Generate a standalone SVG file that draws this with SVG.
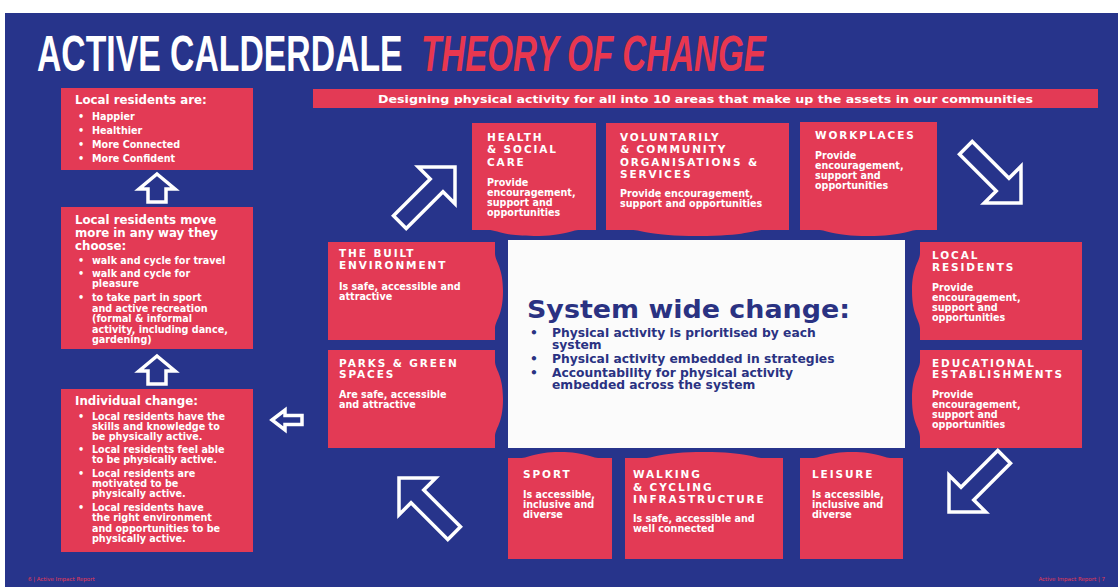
<svg xmlns="http://www.w3.org/2000/svg" width="1118" height="587" viewBox="0 0 1118 587">
<style>
.bx{fill:#e33a55}
.t{fill:#ffffff;font-family:"DejaVu Sans","Liberation Sans",sans-serif;font-weight:bold}
.h{font-size:10.5px;letter-spacing:1.9px}
.b{font-size:9.6px}
.lh{font-size:11.8px}
.c{fill:#2a3282;font-family:"DejaVu Sans","Liberation Sans",sans-serif;font-weight:bold;font-size:12.3px}
.big{font-size:24px}
.arw{fill:#27348b;stroke:#ffffff;stroke-width:3.5;stroke-linejoin:miter}
.ft{fill:#e33a55;font-family:"DejaVu Sans","Liberation Sans",sans-serif;font-size:5.5px}
.ttl{font-family:"Liberation Sans","DejaVu Sans",sans-serif;font-weight:bold;font-size:50px}
</style>
<defs>
<path id="bigArrow" d="M0,0 L-26,-26 L-26,-9 L-78,-9 L-78,9 L-26,9 L-26,26 Z"/>
</defs>
<rect x="0" y="0" width="1118" height="587" fill="#ffffff"/>
<rect x="5" y="13" width="1113" height="574" fill="#27348b"/>

<g id="title">
<text class="ttl" transform="translate(37,71) scale(0.675,1)" x="0" y="0" fill="#ffffff">ACTIVE CALDERDALE</text>
<text class="ttl" transform="translate(421,71) scale(0.663,1)" x="0" y="0" font-style="italic" fill="#e8374f">THEORY OF CHANGE</text>
</g>

<g id="banner">
<rect class="bx" x="313" y="89" width="785" height="19"/>
<text class="t" x="705.5" y="102.5" font-size="11" text-anchor="middle" textLength="655" lengthAdjust="spacingAndGlyphs">Designing physical activity for all into 10 areas that make up the assets in our communities</text>
</g>

<g id="outcome-residents-are">
<rect class="bx" x="61" y="88" width="192" height="82"/>
<text class="t lh" x="75" y="104">Local residents are:</text>
<g class="t b">
<text x="78" y="120">•</text><text x="92" y="120">Happier</text>
<text x="78" y="134">•</text><text x="92" y="134">Healthier</text>
<text x="78" y="148">•</text><text x="92" y="148">More Connected</text>
<text x="78" y="162">•</text><text x="92" y="162">More Confident</text>
</g>
</g>

<g id="outcome-move-more">
<rect class="bx" x="61" y="207" width="192" height="142"/>
<text class="t lh" x="75" y="224">Local residents move</text>
<text class="t lh" x="75" y="237">more in any way they</text>
<text class="t lh" x="75" y="250">choose:</text>
<g class="t b">
<text x="78" y="264">•</text><text x="92" y="264">walk and cycle for travel</text>
<text x="78" y="277">•</text><text x="92" y="277">walk and cycle for</text>
<text x="92" y="287">pleasure</text>
<text x="78" y="301">•</text><text x="92" y="301">to take part in sport</text>
<text x="92" y="311.5">and active recreation</text>
<text x="92" y="322">(formal &amp; informal</text>
<text x="92" y="332.5">activity, including dance,</text>
<text x="92" y="343">gardening)</text>
</g>
</g>

<g id="outcome-individual">
<rect class="bx" x="61" y="389" width="192" height="163"/>
<text class="t lh" x="75" y="405">Individual change:</text>
<g class="t b">
<text x="78" y="420">•</text><text x="92" y="420">Local residents have the</text>
<text x="92" y="430">skills and knowledge to</text>
<text x="92" y="440">be physically active.</text>
<text x="78" y="453">•</text><text x="92" y="453">Local residents feel able</text>
<text x="92" y="463">to be physically active.</text>
<text x="78" y="477">•</text><text x="92" y="477">Local residents are</text>
<text x="92" y="487">motivated to be</text>
<text x="92" y="497">physically active.</text>
<text x="78" y="511">•</text><text x="92" y="511">Local residents have</text>
<text x="92" y="521">the right environment</text>
<text x="92" y="531.5">and opportunities to be</text>
<text x="92" y="542">physically active.</text>
</g>
</g>

<g id="health-social-care">
<path class="bx" d="M472,123 H596 V230 H580 C570,230 566,236 534,236 C502,236 498,230 488,230 H472 Z"/>
<g class="t h">
<text x="487" y="141">HEALTH</text>
<text x="487" y="153">&amp; SOCIAL</text>
<text x="487" y="165.5">CARE</text>
</g>
<g class="t b">
<text x="487" y="186">Provide</text>
<text x="487" y="196">encouragement,</text>
<text x="487" y="206">support and</text>
<text x="487" y="216">opportunities</text>
</g>
</g>

<g id="voluntary-community">
<path class="bx" d="M606,123 H789 V230 H765 C752,230 748,236 698,236 C648,236 644,230 631,230 H606 Z"/>
<g class="t h">
<text x="620" y="141">VOLUNTARILY</text>
<text x="620" y="153">&amp; COMMUNITY</text>
<text x="620" y="165.5">ORGANISATIONS &amp;</text>
<text x="620" y="178">SERVICES</text>
</g>
<g class="t b">
<text x="620" y="197">Provide encouragement,</text>
<text x="620" y="207">support and opportunities</text>
</g>
</g>

<g id="workplaces">
<path class="bx" d="M800,122 H937 V230 H918 C908,230 904,236 868,236 C832,236 828,230 818,230 H800 Z"/>
<text class="t h" x="815" y="139">WORKPLACES</text>
<g class="t b">
<text x="815" y="159">Provide</text>
<text x="815" y="169">encouragement,</text>
<text x="815" y="179">support and</text>
<text x="815" y="189">opportunities</text>
</g>
</g>

<g id="built-environment">
<path class="bx" d="M328,242 H495 V253 C495,262 503,266 503,291 C503,316 495,320 495,329 V340 H328 Z"/>
<g class="t h">
<text x="339" y="257">THE BUILT</text>
<text x="339" y="269">ENVIRONMENT</text>
</g>
<g class="t b">
<text x="339" y="290">Is safe, accessible and</text>
<text x="339" y="300">attractive</text>
</g>
</g>

<g id="parks-green-spaces">
<path class="bx" d="M328,350 H495 V361 C495,370 503,374 503,399 C503,424 495,428 495,437 V448 H328 Z"/>
<g class="t h">
<text x="339" y="367">PARKS &amp; GREEN</text>
<text x="339" y="378">SPACES</text>
</g>
<g class="t b">
<text x="339" y="398">Are safe, accessible</text>
<text x="339" y="408">and attractive</text>
</g>
</g>

<g id="system-wide-change">
<rect x="508" y="240" width="397" height="208" fill="#fbfbfb"/>
<text class="c big" x="527" y="318" textLength="323" lengthAdjust="spacingAndGlyphs">System wide change:</text>
<text class="c" x="530" y="337">•</text><text class="c" x="552" y="337">Physical activity is prioritised by each</text>
<text class="c" x="552" y="349">system</text>
<text class="c" x="530" y="363">•</text><text class="c" x="552" y="363">Physical activity embedded in strategies</text>
<text class="c" x="530" y="377">•</text><text class="c" x="552" y="377">Accountability for physical activity</text>
<text class="c" x="552" y="389">embedded across the system</text>
</g>

<g id="local-residents">
<path class="bx" d="M920,242 H1082 V340 H920 V329 C920,320 912,316 912,291 C912,266 920,262 920,253 Z"/>
<g class="t h">
<text x="932" y="259">LOCAL</text>
<text x="932" y="271">RESIDENTS</text>
</g>
<g class="t b">
<text x="932" y="291">Provide</text>
<text x="932" y="301">encouragement,</text>
<text x="932" y="311">support and</text>
<text x="932" y="321">opportunities</text>
</g>
</g>

<g id="educational-establishments">
<path class="bx" d="M920,350 H1082 V448 H920 V437 C920,428 912,424 912,399 C912,374 920,370 920,361 Z"/>
<g class="t h">
<text x="932" y="367">EDUCATIONAL</text>
<text x="932" y="378">ESTABLISHMENTS</text>
</g>
<g class="t b">
<text x="932" y="398">Provide</text>
<text x="932" y="408">encouragement,</text>
<text x="932" y="418">support and</text>
<text x="932" y="428">opportunities</text>
</g>
</g>

<g id="sport">
<path class="bx" d="M508,458 H520 C530,458 534,452 560,452 C586,452 590,458 600,458 H612 V559 H508 Z"/>
<text class="t h" x="523" y="478">SPORT</text>
<g class="t b">
<text x="523" y="498">Is accessible,</text>
<text x="523" y="508">inclusive and</text>
<text x="523" y="518">diverse</text>
</g>
</g>

<g id="walking-cycling">
<path class="bx" d="M625,458 H645 C655,458 660,452 704,452 C748,452 753,458 763,458 H783 V559 H625 Z"/>
<g class="t h">
<text x="633" y="478">WALKING</text>
<text x="633" y="490.5">&amp; CYCLING</text>
<text x="633" y="503">INFRASTRUCTURE</text>
</g>
<g class="t b">
<text x="633" y="522">Is safe, accessible and</text>
<text x="633" y="532">well connected</text>
</g>
</g>

<g id="leisure">
<path class="bx" d="M800,458 H812 C822,458 826,452 852,452 C878,452 882,458 892,458 H903 V559 H800 Z"/>
<text class="t h" x="812" y="478">LEISURE</text>
<g class="t b">
<text x="812" y="498">Is accessible,</text>
<text x="812" y="508">inclusive and</text>
<text x="812" y="518">diverse</text>
</g>
</g>

<g id="connectors">
<use href="#bigArrow" class="arw" transform="translate(455,167) rotate(-45)"/>
<use href="#bigArrow" class="arw" transform="translate(1021,203) rotate(45)"/>
<use href="#bigArrow" class="arw" transform="translate(949,512) rotate(135)"/>
<use href="#bigArrow" class="arw" transform="translate(399,478) rotate(-135)"/>
<path class="arw" stroke-width="2.6" d="M272,420 L285,410 L285,415.5 L302,415.5 L302,424.5 L285,424.5 L285,430 Z"/>
<path class="arw" stroke-width="2.6" d="M157,174 L175,189 L166,189 L166,202 L148,202 L148,189 L139,189 Z"/>
<path class="arw" stroke-width="2.6" d="M157,356 L175,371 L166,371 L166,384 L148,384 L148,371 L139,371 Z"/>
</g>

<g id="footer">
<text class="ft" x="28" y="581">6 | Active Impact Report</text>
<text class="ft" x="1105" y="581" text-anchor="end">Active Impact Report | 7</text>
</g>
</svg>
